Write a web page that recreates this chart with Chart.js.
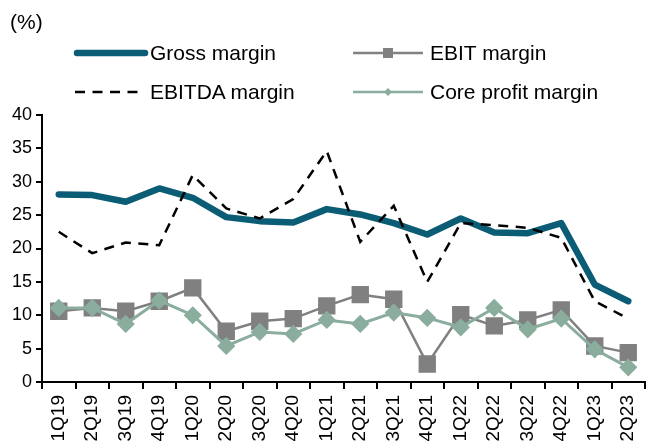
<!DOCTYPE html>
<html>
<head>
<meta charset="utf-8">
<script src="https://cdn.jsdelivr.net/npm/chart.js@4"></script>
<style>
  body { margin: 0; background: #fff; font-family: "Liberation Sans", Arial, sans-serif; }
  #wrap { position: relative; width: 659px; height: 447px; overflow: hidden; }
  #unit { position: absolute; left: 10px; top: 10px; font-size: 21px; line-height: 24px; color: #000; }
  .txt { position: absolute; font-size: 21px; line-height: 24px; color: #000; white-space: nowrap; }
  .sw { position: absolute; }
  canvas { position: absolute; left: 0; top: 0; }
</style>
</head>
<body>
<div id="wrap">
  <canvas id="c" width="659" height="447"></canvas>
  <div id="unit">(%)</div>
  <svg class="sw" style="left:70px; top:43px;" width="80" height="20"><line x1="7" y1="10" x2="75" y2="10" stroke="#0b5c75" stroke-width="6.5" stroke-linecap="round"/></svg>
  <div class="txt" style="left:150px; top:41px;">Gross margin</div>
  <svg class="sw" style="left:350px; top:43px;" width="80" height="20"><line x1="3" y1="10" x2="73" y2="10" stroke="#808080" stroke-width="2.5"/><rect x="33" y="5" width="10" height="10" fill="#808080"/></svg>
  <div class="txt" style="left:430px; top:41px;">EBIT margin</div>
  <svg class="sw" style="left:70px; top:82px;" width="80" height="20"><line x1="5" y1="10" x2="70" y2="10" stroke="#000" stroke-width="2.5" stroke-dasharray="10,7.5"/></svg>
  <div class="txt" style="left:150px; top:80px;">EBITDA margin</div>
  <svg class="sw" style="left:350px; top:82px;" width="80" height="20"><line x1="3" y1="10" x2="73" y2="10" stroke="#8aad9e" stroke-width="2.5"/><polygon points="38,6 42,10 38,14 34,10" fill="#8aad9e"/></svg>
  <div class="txt" style="left:430px; top:80px;">Core profit margin</div>
</div>
<script>
  const quarters = ["1Q19","2Q19","3Q19","4Q19","1Q20","2Q20","3Q20","4Q20","1Q21","2Q21","3Q21","4Q21","1Q22","2Q22","3Q22","4Q22","1Q23","2Q23"];
  const grossMargin = [28.1,28.0,27.0,29.0,27.6,24.7,24.1,23.9,25.9,25.1,23.8,22.1,24.5,22.4,22.3,23.8,14.6,12.1];
  const ebitdaMargin = [22.5,19.3,20.9,20.5,31.0,26.0,24.5,27.4,34.6,21.0,26.4,15.0,23.8,23.5,23.1,21.6,12.1,9.5];
  const ebitMargin = [10.6,11.1,10.6,12.1,14.1,7.6,9.1,9.5,11.4,13.1,12.4,2.7,10.1,8.4,9.3,10.8,5.4,4.4];
  const coreMargin = [11.1,11.1,8.7,12.2,10.0,5.4,7.5,7.2,9.3,8.7,10.4,9.6,8.2,11.1,7.9,9.5,4.9,2.2];

  Chart.defaults.font.family = "'Liberation Sans', Arial, sans-serif";
  Chart.defaults.color = "#000";

  new Chart(document.getElementById("c").getContext("2d"), {
    type: "line",
    data: {
      labels: quarters,
      datasets: [
        { label: "Core profit margin", data: coreMargin, borderColor: "#8aad9e", backgroundColor: "#8aad9e",
          borderWidth: 3, pointStyle: "rectRot", pointRadius: 7, pointHoverRadius: 7, tension: 0 },
        { label: "EBIT margin", data: ebitMargin, borderColor: "#808080", backgroundColor: "#808080",
          borderWidth: 2.5, pointStyle: "rect", pointRadius: 10.5, pointHoverRadius: 10.5, tension: 0 },
        { label: "EBITDA margin", data: ebitdaMargin, borderColor: "#000", borderWidth: 2.5,
          borderDash: [10, 7.5], pointRadius: 0, tension: 0 },
        { label: "Gross margin", data: grossMargin, borderColor: "#0b5c75", borderWidth: 6.5,
          pointRadius: 0, tension: 0, borderJoinStyle: "round", borderCapStyle: "round" }
      ]
    },
    options: {
      responsive: false,
      animation: false,
      events: [],
      layout: { padding: { top: 115, right: 14, left: 0, bottom: 0 } },
      plugins: { legend: { display: false }, tooltip: { enabled: false } },
      scales: {
        x: {
          offset: true,
          afterFit(scale) { scale.height = 65; },
          grid: { offset: true, drawOnChartArea: false, drawTicks: true, tickLength: 7, color: "#000", lineWidth: 2 },
          border: { color: "#000", width: 2 },
          ticks: { font: { size: 19 }, maxRotation: 90, minRotation: 90, padding: 6, autoSkip: false }
        },
        y: {
          min: 0, max: 40,
          afterFit(scale) { scale.width = 42; },
          grid: { drawOnChartArea: false, drawTicks: true, tickLength: 6, color: "#000", lineWidth: 2 },
          border: { color: "#000", width: 2 },
          ticks: { stepSize: 5, font: { size: 18 }, padding: 4 }
        }
      }
    }
  });
</script>
</body>
</html>
